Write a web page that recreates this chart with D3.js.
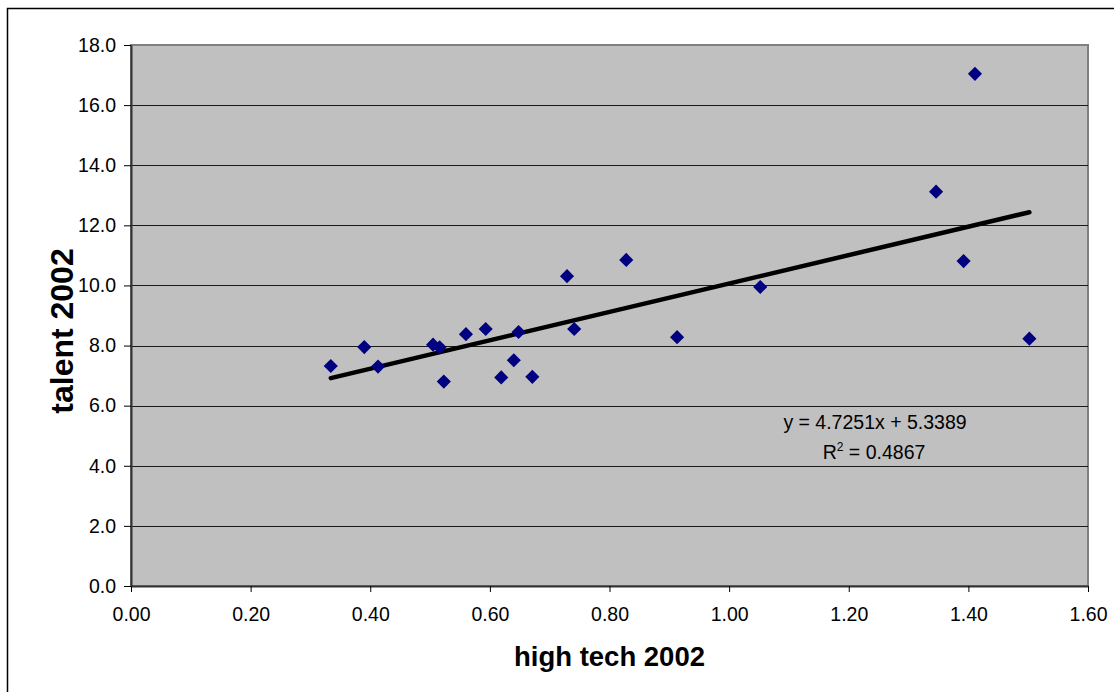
<!DOCTYPE html>
<html>
<head>
<meta charset="utf-8">
<script src="https://cdn.jsdelivr.net/npm/d3@7"></script>
<style>
  html, body { margin: 0; padding: 0; background: #fff; }
  svg { display: block; font-family: "Liberation Sans", Arial, sans-serif; }
</style>
</head>
<body>
<svg id="chart" width="1114" height="692"></svg>
<script>
// high tech index vs. talent index, 2002
const hightech = [0.334, 0.390, 0.413, 0.505, 0.516, 0.523, 0.560, 0.593, 0.619, 0.640, 0.648, 0.671,
                  0.729, 0.741, 0.828, 0.913, 1.052, 1.346, 1.392, 1.411, 1.502];
const talent   = [7.32, 7.95, 7.30, 8.03, 7.94, 6.80, 8.38, 8.55, 6.94, 7.51, 8.45, 6.96,
                  10.31, 8.55, 10.85, 8.28, 9.95, 13.12, 10.81, 17.04, 8.23];

// linear trend line
const slope = 4.7251;
const intercept = 5.3389;
const rSquared = 0.4867;

const xTicks = [0, 0.2, 0.4, 0.6, 0.8, 1.0, 1.2, 1.4, 1.6];
const yTicks = [0, 2, 4, 6, 8, 10, 12, 14, 16, 18];

const svg = d3.select("#chart");

const x = d3.scaleLinear().domain([0, 1.6]).range([131, 1088]);
const y = d3.scaleLinear().domain([0, 18]).range([586, 45]);

// outer chart frame
svg.append("rect")
  .attr("x", 7.5).attr("y", 8.5)
  .attr("width", 1130).attr("height", 700)
  .attr("fill", "#fff").attr("stroke", "#000").attr("stroke-width", 1.5);

// plot area
svg.append("rect")
  .attr("x", x(0)).attr("y", y(18))
  .attr("width", x(1.6) - x(0)).attr("height", y(0) - y(18))
  .attr("fill", "#c0c0c0").attr("stroke", "#808080").attr("stroke-width", 2);

// horizontal gridlines
svg.append("g")
  .selectAll("line")
  .data(yTicks.filter(d => d > 0 && d < 18))
  .join("line")
  .attr("x1", x(0)).attr("x2", x(1.6))
  .attr("y1", d => Math.round(y(d)) + 0.5).attr("y2", d => Math.round(y(d)) + 0.5)
  .attr("stroke", "#1a1a1a").attr("stroke-width", 1);

// axes
const xAxis = d3.axisBottom(x).tickValues(xTicks).tickFormat(d3.format(".2f"))
  .tickSizeInner(6).tickSizeOuter(0).tickPadding(15);
const yAxis = d3.axisLeft(y).tickValues(yTicks).tickFormat(d3.format(".1f"))
  .tickSizeInner(7).tickSizeOuter(0).tickPadding(8);

const gx = svg.append("g").attr("transform", `translate(0,${y(0)})`).call(xAxis);
const gy = svg.append("g").attr("transform", `translate(${x(0)},0)`).call(yAxis);

[gx, gy].forEach(g => {
  g.select(".domain").attr("stroke", "#333").attr("stroke-width", 2);
  g.selectAll(".tick line").attr("stroke", "#000").attr("stroke-width", 1);
  g.selectAll(".tick text")
    .attr("fill", "#000")
    .attr("font-size", "19.5px")
    .attr("font-family", "'Liberation Sans', Arial, sans-serif");
});

// trend line over the data range
const xMin = d3.min(hightech), xMax = d3.max(hightech);
svg.append("line")
  .attr("x1", x(xMin)).attr("y1", y(slope * xMin + intercept))
  .attr("x2", x(xMax)).attr("y2", y(slope * xMax + intercept))
  .attr("stroke", "#000").attr("stroke-width", 4.5).attr("stroke-linecap", "round");

// data markers (diamonds)
const diamond = d3.symbol().type(d3.symbolSquare).size(100);
svg.append("g")
  .selectAll("path")
  .data(hightech.map((h, i) => [h, talent[i]]))
  .join("path")
  .attr("d", diamond)
  .attr("transform", d => `translate(${x(d[0])},${y(d[1])}) rotate(45)`)
  .attr("fill", "#000080");

// trend line equation
const eq = svg.append("g").attr("font-size", "19.5px").attr("fill", "#000").attr("text-anchor", "middle");
eq.append("text").attr("x", 875).attr("y", 429)
  .text(`y = ${slope}x + ${intercept}`);
const r2 = eq.append("text").attr("x", 874).attr("y", 459);
r2.append("tspan").text("R");
r2.append("tspan").attr("dy", -8).attr("font-size", "12px").text("2");
r2.append("tspan").attr("dy", 8).text(` = ${rSquared}`);

// axis titles
svg.append("text")
  .attr("x", 609.5).attr("y", 666)
  .attr("text-anchor", "middle")
  .attr("font-weight", "bold").attr("font-size", "27.5px")
  .text("high tech 2002");

svg.append("text")
  .attr("transform", "translate(73,331) rotate(-90)")
  .attr("text-anchor", "middle")
  .attr("font-weight", "bold").attr("font-size", "32px")
  .text("talent 2002");
</script>
</body>
</html>
